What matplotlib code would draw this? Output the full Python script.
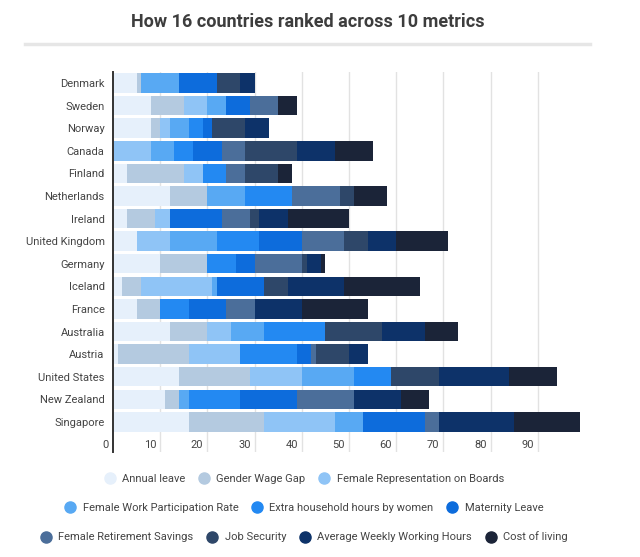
import numpy as np
import matplotlib.pyplot as plt
from matplotlib.lines import Line2D
from matplotlib.transforms import ScaledTranslation

plt.rcParams['font.family'] = ['Roboto', 'DejaVu Sans']

# ---- data (top to bottom) ----
countries = ['Denmark', 'Sweden', 'Norway', 'Canada', 'Finland', 'Netherlands',
             'Ireland', 'United Kingdom', 'Germany', 'Iceland', 'France',
             'Australia', 'Austria', 'United States', 'New Zealand', 'Singapore']

metrics = ['Annual leave', 'Gender Wage Gap', 'Female Representation on Boards',
           'Female Work Participation Rate', 'Extra household hours by women',
           'Maternity Leave', 'Female Retirement Savings', 'Job Security',
           'Average Weekly Working Hours', 'Cost of living']

annual_leave = [5, 8, 8, 0, 3, 12, 3, 5, 10, 2, 5, 12, 1, 14, 11, 16]
wage_gap = [1, 7, 2, 0, 12, 8, 6, 0, 10, 4, 5, 8, 15, 15, 3, 16]
boards = [0, 5, 2, 8, 4, 0, 3, 7, 0, 15, 0, 5, 11, 11, 0, 15]
work_participation = [8, 4, 4, 5, 0, 8, 0, 10, 0, 1, 0, 7, 0, 11, 2, 6]
household_hours = [0, 0, 3, 4, 5, 10, 0, 9, 6, 0, 6, 13, 12, 8, 11, 0]
maternity = [8, 5, 2, 6, 0, 0, 11, 9, 4, 10, 8, 0, 3, 0, 12, 13]
retirement = [0, 6, 0, 5, 4, 10, 6, 9, 10, 0, 6, 0, 1, 0, 12, 3]
job_security = [5, 0, 7, 11, 7, 3, 2, 5, 1, 5, 0, 12, 7, 10, 0, 0]
weekly_hours = [3, 0, 5, 8, 0, 0, 6, 6, 3, 12, 10, 9, 4, 15, 10, 16]
cost_of_living = [0, 4, 0, 8, 3, 7, 13, 11, 1, 16, 14, 7, 0, 10, 6, 14]

series = [annual_leave, wage_gap, boards, work_participation, household_hours,
          maternity, retirement, job_security, weekly_hours, cost_of_living]

colors = ['#e6f0fb', '#b4cae0', '#8fc4f6', '#58a9f3', '#2389f2',
          '#0d6cdc', '#4b6e9a', '#2e4769', '#0d3269', '#1b2438']

# ---- figure ----
fig = plt.figure(figsize=(6.4, 5.57), dpi=100)
ax = fig.add_axes([113 / 640, 1 - 452 / 557, 472 / 640, 380 / 557])

y = np.arange(len(countries))
left = np.zeros(len(countries))
for vals, col in zip(series, colors):
    ax.barh(y, vals, left=left, height=0.86, color=col, zorder=2)
    left += np.array(vals)

ax.set_xlim(0, 100)
ax.set_ylim(16.33, -0.487)

# vertical gridlines
for gx in range(10, 100, 10):
    ax.axvline(gx, color='#e2e2e2', linewidth=1, zorder=1)

ax.set_yticks(y)
ax.set_yticklabels(countries, fontsize=8, color='#444444')
ax.tick_params(axis='y', length=0, pad=6)

ax.set_xticks(range(0, 100, 10))
ax.set_xticklabels([str(v) for v in range(0, 100, 10)], fontsize=8, color='#444444')
ax.tick_params(axis='x', length=0, pad=0)
shift = ScaledTranslation(-4 / 100, 12 / 100, fig.dpi_scale_trans)
for lab in ax.get_xticklabels():
    lab.set_horizontalalignment('right')
    lab.set_transform(lab.get_transform() + shift)

for s in ['top', 'right', 'bottom']:
    ax.spines[s].set_visible(False)
ax.spines['left'].set_color('#333333')
ax.spines['left'].set_linewidth(1.4)
ax.spines['left'].set_zorder(3)

# title and rule
fig.text(308 / 640, 1 - 22 / 557, 'How 16 countries ranked across 10 metrics',
         ha='center', va='center', fontsize=13, fontweight='bold', color='#3d3d3d')
fig.add_artist(Line2D([25 / 640, 590 / 640], [1 - 44 / 557, 1 - 44 / 557],
                      color='#e6e6e6', linewidth=2.5, transform=fig.transFigure))

# legend in three centred rows
rows = [[0, 1, 2], [3, 4, 5], [6, 7, 8, 9]]
row_y = [479, 508, 537]
for idx, ry in zip(rows, row_y):
    handles = [Line2D([], [], linestyle='none', marker='o', markersize=8,
                      markerfacecolor=colors[i], markeredgecolor=colors[i]) for i in idx]
    leg = fig.legend(handles, [metrics[i] for i in idx], loc='center',
                     bbox_to_anchor=(304 / 640, 1 - ry / 557), ncol=len(idx),
                     frameon=False, fontsize=8, handlelength=1.0, handletextpad=0.6,
                     columnspacing=1.2, labelcolor='#444444')

fig.savefig('out.png', dpi=100)
